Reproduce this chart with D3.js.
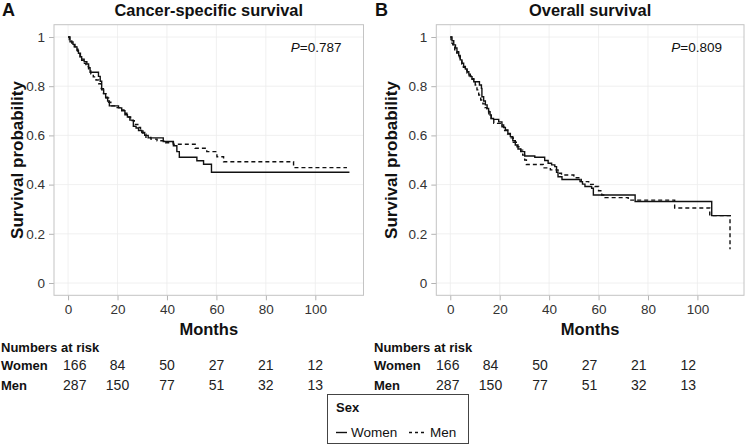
<!DOCTYPE html>
<html><head><meta charset="utf-8">
<script src="https://cdn.jsdelivr.net/npm/d3@7"></script>
<style>
html,body{margin:0;padding:0;background:#fff;}
svg{display:block;font-family:"Liberation Sans",Arial,Helvetica,sans-serif;}
</style></head>
<body><svg id="chart" width="746" height="445"></svg>
<script>
// ---------- data ----------
const panelLetters = ["A", "B"];
const panelTitles = ["Cancer-specific survival", "Overall survival"];
const pValues = ["0.787", "0.809"];
const xTicks = [0, 20, 40, 60, 80, 100];
const yTicks = [0, 0.2, 0.4, 0.6, 0.8, 1];
const groups = ["Women", "Men"];
const riskTimes = [0, 20, 40, 60, 80, 100];
const riskWomen = [166, 84, 50, 27, 21, 12];
const riskMen = [287, 150, 77, 51, 32, 13];

// Kaplan-Meier steps: [months, survival after step]
const csWomen = [[0,1],[0.8,0.98],[2,0.97],[2.8,0.96],[3.6,0.945],[4.2,0.934],[5,0.92],[5.5,0.91],[6.5,0.9],[7.6,0.89],[8.3,0.875],[8.9,0.857],[12.3,0.84],[13,0.82],[13.6,0.785],[14.4,0.77],[15.2,0.755],[16,0.74],[16.7,0.72],[20.4,0.712],[21.7,0.70],[23,0.684],[24,0.675],[25,0.662],[26.4,0.637],[27.5,0.63],[28.5,0.62],[29.8,0.612],[31,0.6],[32.4,0.59],[38.5,0.575],[42.6,0.558],[44,0.534],[45,0.511],[52.1,0.497],[54.8,0.483],[58,0.45],[113.8,0.45]];
const csMen = [[0,1],[0.5,0.99],[1.5,0.975],[2.5,0.96],[3.2,0.95],[4,0.935],[4.8,0.92],[5.5,0.905],[6.2,0.893],[7.2,0.88],[8.3,0.865],[9.2,0.85],[10.2,0.838],[11.3,0.825],[12.4,0.81],[13.4,0.79],[14.3,0.77],[15.3,0.752],[16.4,0.735],[17.3,0.72],[19.5,0.713],[21.2,0.703],[22.6,0.69],[23.8,0.675],[25.3,0.66],[26.8,0.645],[28.2,0.632],[29.3,0.618],[30.3,0.605],[31.5,0.592],[33.5,0.585],[36,0.578],[39.5,0.57],[42.6,0.564],[51.4,0.548],[56.1,0.534],[60.2,0.513],[62.9,0.493],[91.2,0.469],[112.8,0.469]];
const osWomen = [[0,1],[0.7,0.985],[1.4,0.968],[2.1,0.955],[2.7,0.94],[3.4,0.925],[4,0.907],[4.7,0.893],[5.4,0.88],[6.1,0.87],[6.8,0.859],[7.5,0.849],[8.1,0.839],[8.8,0.828],[9.5,0.818],[11.8,0.805],[12.6,0.791],[12.8,0.757],[13.5,0.74],[14.2,0.724],[14.9,0.71],[15.5,0.696],[16.1,0.683],[16.6,0.669],[17.5,0.665],[19.6,0.655],[20.9,0.642],[21.6,0.632],[22.3,0.622],[23.3,0.608],[24.3,0.595],[25.3,0.578],[26.3,0.561],[27.4,0.545],[28.5,0.534],[30.1,0.516],[34.2,0.511],[38.2,0.498],[39.6,0.487],[41,0.48],[42.3,0.473],[43,0.45],[43.6,0.432],[45.2,0.421],[52.5,0.412],[53.5,0.402],[54.5,0.392],[57.2,0.385],[57.9,0.358],[74.8,0.331],[105.8,0.274],[113.6,0.274]];
const osMen = [[0,1],[0.3,0.975],[1,0.962],[1.8,0.948],[2.6,0.935],[3.3,0.92],[4,0.905],[4.7,0.89],[5.3,0.877],[6,0.865],[6.8,0.853],[7.6,0.842],[8.4,0.83],[9.5,0.818],[10.1,0.805],[10.8,0.785],[11.5,0.764],[12.3,0.744],[13.2,0.728],[14,0.713],[14.8,0.698],[15.6,0.684],[16.5,0.668],[17.6,0.649],[20.9,0.635],[22,0.62],[23.2,0.605],[24.3,0.59],[25.5,0.572],[27,0.554],[28.5,0.54],[29.3,0.52],[30.1,0.5],[30.8,0.482],[37.6,0.468],[40.5,0.46],[43.6,0.446],[45,0.439],[50,0.428],[52,0.421],[53,0.412],[56,0.401],[58.5,0.392],[60,0.375],[61.3,0.358],[62.6,0.347],[72,0.337],[90.8,0.305],[105,0.274],[113.2,0.137]];

const panelCurves = [[csWomen, csMen], [osWomen, osMen]];

// ---------- layout ----------
const svg = d3.select("#chart");
const panels = [
  {off: 0,   xRange: [54, 363.5], xDom: [-5.69, 119.49], yTitleX: 23},
  {off: 373, xRange: [436.3, 744], xDom: [-5.66, 118.86], yTitleX: 397}
];
const yRange = [295.3, 24.7], yDom = [-0.05, 1.05];
const dashes = [null, "4,3"];

panels.forEach((p, i) => {
  const x = d3.scaleLinear().domain(p.xDom).range(p.xRange);
  const y = d3.scaleLinear().domain(yDom).range(yRange);
  const g = svg.append("g");
  const [L, R] = p.xRange, T = yRange[1], B = yRange[0];

  // grid
  g.selectAll(".gx").data(xTicks).join("line")
    .attr("x1", d => x(d)).attr("x2", d => x(d)).attr("y1", T).attr("y2", B)
    .attr("stroke", "#ececec").attr("stroke-width", 0.8);
  g.selectAll(".gy").data(yTicks).join("line")
    .attr("x1", L).attr("x2", R).attr("y1", d => y(d)).attr("y2", d => y(d))
    .attr("stroke", "#ececec").attr("stroke-width", 0.8);

  // axes
  const xAxis = d3.axisBottom(x).tickValues(xTicks).tickSize(5).tickPadding(6).tickFormat(d3.format("d"));
  const ax = g.append("g").attr("transform", `translate(0,${B})`).call(xAxis);
  const yAxis = d3.axisLeft(y).tickValues(yTicks).tickSize(5).tickPadding(4).tickFormat(d => d === 0 || d === 1 ? String(d) : d3.format(".1f")(d));
  const ay = g.append("g").attr("transform", `translate(${L},0)`).call(yAxis);
  [ax, ay].forEach(a => {
    a.select(".domain").remove();
    a.selectAll(".tick line").attr("stroke", "#b3b3b3");
    a.selectAll(".tick text").attr("fill", "#333").style("font-size", "13.5px").style("font-family", "Liberation Sans, Arial, sans-serif");
  });
  ax.selectAll(".tick text").attr("dy", "0.71em").attr("y", 9);

  // panel border
  g.append("rect").attr("x", L).attr("y", T).attr("width", R - L).attr("height", B - T)
    .attr("fill", "none").attr("stroke", "#c4c4c4").attr("stroke-width", 1);

  // curves
  const line = d3.line().x(d => x(d[0])).y(d => y(d[1])).curve(d3.curveStepAfter);
  panelCurves[i].forEach((c, k) => {
    g.append("path").datum(c).attr("d", line)
      .attr("fill", "none").attr("stroke", "#111").attr("stroke-width", 1.4)
      .attr("stroke-dasharray", dashes[k]);
  });

  // p value
  const pt = g.append("text").attr("x", R - 22).attr("y", 52).attr("text-anchor", "end")
    .style("font-size", "13.5px").attr("fill", "#111");
  pt.append("tspan").style("font-style", "italic").text("P");
  pt.append("tspan").text("=" + pValues[i]);

  // titles
  g.append("text").attr("x", p.off + 2).attr("y", 15.5).style("font-size", "18px").style("font-weight", "bold").attr("fill", "#111").text(panelLetters[i]);
  g.append("text").attr("x", (L + R) / 2).attr("y", 15.5).attr("text-anchor", "middle")
    .style("font-size", "16.4px").style("font-weight", "bold").attr("fill", "#111").text(panelTitles[i]);
  g.append("text").attr("transform", `translate(${p.yTitleX},${(T + B) / 2}) rotate(-90)`).attr("text-anchor", "middle")
    .style("font-size", "17px").style("font-weight", "bold").attr("fill", "#111").text("Survival probability");
  g.append("text").attr("x", (L + R) / 2).attr("y", 335).attr("text-anchor", "middle")
    .style("font-size", "16.5px").style("font-weight", "bold").attr("fill", "#111").text("Months");

  // risk table
  const xt = d3.scaleLinear().domain(panels[0].xDom).range(panels[0].xRange.map(v => v + p.off));
  g.append("text").attr("x", p.off + 1).attr("y", 352).style("font-size", "13px").style("font-weight", "bold").attr("fill", "#111").text("Numbers at risk");
  [riskWomen, riskMen].forEach((row, r) => {
    const yy = 370 + r * 20;
    g.append("text").attr("x", p.off + 1).attr("y", yy).style("font-size", "13px").style("font-weight", "bold").attr("fill", "#111").text(groups[r]);
    g.selectAll(null).data(row).join("text")
      .attr("x", (d, j) => j === 0 ? xt(riskTimes[j]) - 5 : xt(riskTimes[j]))
      .attr("y", yy)
      .attr("text-anchor", (d, j) => j === 0 ? "start" : "middle")
      .style("font-size", "14px").attr("fill", "#222").text(d => d);
  });
});

// legend
const lg = svg.append("g");
lg.append("rect").attr("x", 327.5).attr("y", 394.5).attr("width", 141).attr("height", 49)
  .attr("fill", "#fff").attr("stroke", "#444").attr("stroke-width", 1);
lg.append("text").attr("x", 336).attr("y", 412).style("font-size", "13px").style("font-weight", "bold").attr("fill", "#111").text("Sex");
const legItems = [{x: 336, tx: 351}, {x: 409, tx: 430}];
groups.forEach((gname, k) => {
  lg.append("line").attr("x1", legItems[k].x).attr("x2", legItems[k].x + (k === 0 ? 11 : 18))
    .attr("y1", 432.5).attr("y2", 432.5).attr("stroke", "#111").attr("stroke-width", 1.4)
    .attr("stroke-dasharray", dashes[k] ? "3,3" : null);
  lg.append("text").attr("x", legItems[k].tx).attr("y", 437).style("font-size", "13.5px").attr("fill", "#111").text(gname);
});
</script></body></html>
